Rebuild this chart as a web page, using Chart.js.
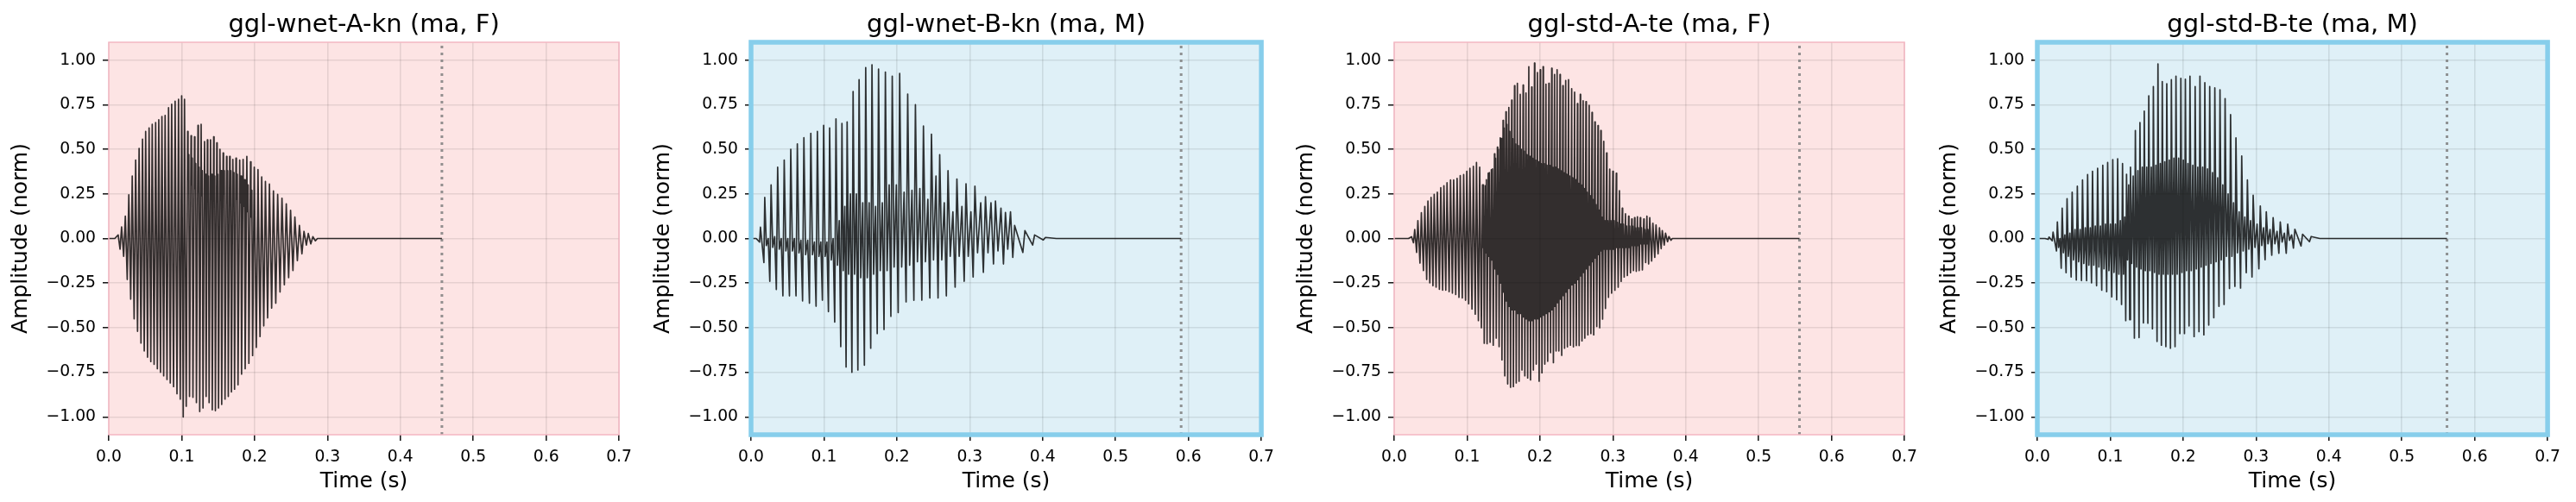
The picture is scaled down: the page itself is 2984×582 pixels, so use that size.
<!DOCTYPE html>
<html>
<head>
<meta charset="utf-8">
<script src="https://cdn.jsdelivr.net/npm/chart.js@4.4.1/dist/chart.umd.min.js"></script>
<style>
  body { margin: 0; background: #fff; width: 2984px; height: 582px; position: relative; overflow: hidden; }
  .panel { position: absolute; top: 0; width: 740px; height: 582px; }
</style>
</head>
<body>
<div class="panel" style="left:0px"><canvas id="c1" width="740" height="582"></canvas></div>
<div class="panel" style="left:744px"><canvas id="c2" width="740" height="582"></canvas></div>
<div class="panel" style="left:1489px"><canvas id="c3" width="740" height="582"></canvas></div>
<div class="panel" style="left:2234px"><canvas id="c4" width="740" height="582"></canvas></div>
<script>
// ---- data ----
const titles = ['ggl-wnet-A-kn (ma, F)', 'ggl-wnet-B-kn (ma, M)', 'ggl-std-A-te (ma, F)', 'ggl-std-B-te (ma, M)'];
const xTicks = [0, 0.1, 0.2, 0.3, 0.4, 0.5, 0.6, 0.7];
const yTicks = [-1, -0.75, -0.5, -0.25, 0, 0.25, 0.5, 0.75, 1];
const endTimes = [0.457, 0.59, 0.556, 0.562];   // end of audio (dotted line)

// per glottal cycle: peak time, peak, trough, inner ripple high/low
const p1Time = [0.0129,0.0176,0.0227,0.0275,0.0322,0.0369,0.0416,0.0463,0.0506,0.0553,0.0596,0.0643,0.0686,0.0729,0.0773,0.0820,0.0863,0.0910,0.0957,0.1000,0.1039,0.1082,0.1129,0.1176,0.1224,0.1267,0.1314,0.1353,0.1396,0.1439,0.1482,0.1525,0.1569,0.1616,0.1659,0.1702,0.1745,0.1796,0.1843,0.1894,0.1945,0.1996,0.2047,0.2098,0.2149,0.2204,0.2259,0.2317,0.2376,0.2435,0.2494,0.2553,0.2615,0.2678,0.2737,0.2800];
const p1Hi = [0.02,0.065,0.125,0.245,0.35,0.44,0.505,0.557,0.60,0.62,0.64,0.65,0.666,0.684,0.69,0.733,0.752,0.77,0.78,0.80,0.78,0.60,0.576,0.57,0.634,0.64,0.544,0.553,0.553,0.57,0.536,0.50,0.48,0.46,0.46,0.443,0.45,0.44,0.443,0.46,0.43,0.40,0.386,0.345,0.32,0.305,0.267,0.247,0.226,0.194,0.158,0.12,0.073,0.04,0.028,0.01];
const p1Lo = [-0.06,-0.10,-0.23,-0.34,-0.45,-0.52,-0.586,-0.63,-0.665,-0.69,-0.705,-0.73,-0.75,-0.77,-0.79,-0.81,-0.83,-0.87,-0.90,-1.0,-0.94,-0.885,-0.89,-0.92,-0.97,-0.95,-0.885,-0.92,-0.96,-0.965,-0.95,-0.93,-0.90,-0.885,-0.86,-0.845,-0.82,-0.76,-0.73,-0.70,-0.656,-0.61,-0.55,-0.49,-0.445,-0.39,-0.363,-0.30,-0.26,-0.22,-0.18,-0.124,-0.086,-0.037,-0.03,-0.013];
const p1InHi = [null,null,null,null,null,null,null,null,null,null,null,null,null,null,null,null,null,null,null,null,null,
  0.47,0.45,0.42,0.40,0.38,0.36,0.35,0.36,0.35,0.36,0.38,0.38,0.38,0.38,0.37,0.36,0.35,0.33,0.30,0.27,
  null,null,null,null,null,null,null,null,null,null,null,null,null,null,null];
const p1InLo = [null,null,null,null,null,null,null,null,null,null,null,null,null,null,null,null,null,null,null,null,null,
  0.33,0.30,0.28,0.26,0.24,0.22,0.22,0.22,0.21,0.22,0.24,0.25,0.25,0.25,0.24,0.22,0.20,0.18,0.15,0.12,
  null,null,null,null,null,null,null,null,null,null,null,null,null,null,null];

const p2Time = [0.0129,0.0188,0.0275,0.0365,0.0455,0.0545,0.0635,0.0725,0.0820,0.0910,0.0996,0.1078,0.1165,0.1247,0.1318,0.1400,0.1482,0.1573,0.1659,0.1749,0.1843,0.1937,0.2039,0.2149,0.2255,0.2365,0.2475,0.2588,0.2702,0.2824,0.2949,0.3071,0.3216,0.3353,0.3490,0.3616,0.3757,0.3890,0.4039];
const p2Hi = [0.063,0.23,0.30,0.40,0.44,0.50,0.53,0.565,0.59,0.60,0.634,0.62,0.67,0.645,0.654,0.824,0.89,0.958,0.974,0.95,0.933,0.91,0.925,0.81,0.75,0.63,0.585,0.47,0.38,0.333,0.307,0.293,0.234,0.21,0.146,0.073,0.044,0.02,0.006];
const p2Lo = [-0.02,-0.135,-0.24,-0.286,-0.322,-0.322,-0.322,-0.35,-0.363,-0.38,-0.346,-0.41,-0.468,-0.606,-0.72,-0.75,-0.737,-0.71,-0.615,-0.533,-0.51,-0.436,-0.415,-0.355,-0.346,-0.346,-0.333,-0.333,-0.322,-0.273,-0.24,-0.216,-0.19,-0.143,-0.143,-0.106,-0.078,-0.037,-0.008];
const p2InHi = [null,0.0,0.01,0.0,0.0,0.0,-0.01,-0.01,-0.02,-0.02,-0.02,0.0,
  0.1,0.18,0.25,0.25,0.2,0.2,0.18,0.2,0.3,0.3,0.26,0.27,
  0.28,0.22,0.35,0.2,0.15,0.18,0.15,0.2,0.2,0.17,0.15,null,null,null,null];
const p2InLo = [null,-0.04,-0.05,-0.06,-0.07,-0.07,-0.08,-0.09,-0.09,-0.1,-0.1,-0.12,
  -0.15,-0.18,-0.2,-0.2,-0.22,-0.22,-0.2,-0.18,-0.18,-0.16,-0.16,-0.15,
  -0.13,-0.13,-0.12,-0.12,-0.1,-0.1,-0.1,-0.08,-0.08,-0.07,-0.06,null,null,null,null];

const p3Time = [0.0239,0.0282,0.0325,0.0373,0.0420,0.0463,0.0506,0.0549,0.0592,0.0639,0.0682,0.0725,0.0773,0.0816,0.0863,0.0906,0.0953,0.0996,0.1039,0.1086,0.1129,0.1173,0.1212,0.1251,0.1290,0.1333,0.1376,0.1416,0.1455,0.1494,0.1533,0.1573,0.1612,0.1651,0.1690,0.1729,0.1769,0.1808,0.1847,0.1886,0.1925,0.1965,0.2004,0.2043,0.2082,0.2122,0.2161,0.2200,
  0.2235,0.2275,0.2314,0.2353,0.2392,0.2435,0.2475,0.2514,0.2553,0.2592,0.2631,0.2675,0.2714,0.2753,0.2796,0.2835,0.2875,0.2914,0.2957,0.3000,0.3047,0.3090,0.3129,0.3173,0.3216,0.3259,0.3298,0.3337,0.3376,0.3424,0.3467,0.3506,0.3549,0.3592,0.3639,0.3678,0.3722,0.3769];
const p3Hi = [0.01,0.05,0.10,0.145,0.18,0.21,0.23,0.247,0.26,0.285,0.296,0.312,0.328,0.328,0.337,0.353,0.358,0.377,0.393,0.405,0.426,0.40,0.30,0.296,0.366,0.385,0.475,0.512,0.564,0.662,0.71,0.735,0.776,0.857,0.87,0.808,0.86,0.816,0.963,0.849,0.984,0.93,0.946,0.963,0.865,0.87,0.954,0.92,
  0.946,0.92,0.857,0.886,0.89,0.84,0.82,0.756,0.808,0.772,0.767,0.746,0.707,0.654,0.633,0.605,0.545,0.48,0.389,0.377,0.366,0.268,0.17,0.138,0.125,0.109,0.117,0.122,0.117,0.109,0.125,0.117,0.085,0.076,0.06,0.044,0.03,0.011];
const p3Lo = [-0.024,-0.078,-0.138,-0.18,-0.23,-0.249,-0.265,-0.273,-0.285,-0.29,-0.29,-0.298,-0.306,-0.314,-0.33,-0.333,-0.346,-0.366,-0.395,-0.424,-0.46,-0.5,-0.587,-0.59,-0.582,-0.598,-0.558,-0.606,-0.68,-0.77,-0.815,-0.834,-0.83,-0.81,-0.80,-0.737,-0.77,-0.782,-0.793,-0.737,-0.704,-0.80,-0.753,-0.704,-0.688,-0.64,-0.696,-0.63,
  -0.63,-0.655,-0.615,-0.607,-0.598,-0.607,-0.6,-0.6,-0.574,-0.558,-0.54,-0.533,-0.54,-0.493,-0.5,-0.452,-0.392,-0.33,-0.306,-0.29,-0.273,-0.24,-0.216,-0.208,-0.192,-0.18,-0.184,-0.18,-0.176,-0.135,-0.143,-0.127,-0.106,-0.086,-0.057,-0.037,-0.018,-0.01];
const p3InHi = [null,null,null,null,null,null,null,null,null,null,null,null,null,null,null,null,null,null,null,null,null,null,
  0.30,0.33,0.37,0.39,0.45,0.50,0.56,0.62,0.64,0.60,0.56,0.53,0.52,0.50,0.49,0.47,0.46,0.45,0.44,0.43,
  0.42,0.42,0.41,0.41,0.40,0.40,0.39,0.38,0.37,0.36,0.35,0.34,0.33,0.31,0.30,0.28,0.26,0.24,0.22,0.19,
  0.16,0.12,0.10,0.10,0.10,0.10,0.09,0.08,0.08,0.07,0.07,0.07,0.06,0.06,0.06,0.05,0.05,
  null,null,null,null,null,null,null];
const p3InLo = [null,null,null,null,null,null,null,null,null,null,null,null,null,null,null,null,null,null,null,null,null,null,
  -0.05,-0.08,-0.10,-0.12,-0.17,-0.20,-0.25,-0.30,-0.35,-0.38,-0.40,-0.40,-0.42,-0.42,-0.44,-0.45,-0.46,-0.46,-0.45,-0.45,
  -0.44,-0.43,-0.42,-0.41,-0.40,-0.38,-0.36,-0.34,-0.32,-0.30,-0.28,-0.26,-0.25,-0.23,-0.21,-0.19,-0.17,-0.15,-0.13,-0.11,
  -0.09,-0.07,-0.06,-0.06,-0.06,-0.06,-0.05,-0.05,-0.05,-0.05,-0.05,-0.04,-0.04,-0.04,-0.03,-0.03,-0.03,
  null,null,null,null,null,null,null];

const p4Time = [0.0161,0.0216,0.0275,0.0341,0.0408,0.0478,0.0549,0.0620,0.0690,0.0757,0.0827,0.0898,0.0965,0.1035,0.1102,0.1169,0.1224,0.1278,0.1345,0.1408,0.1467,0.1529,0.1592,0.1655,0.1714,0.1776,0.1839,0.1902,0.1969,0.2031,0.2094,0.2165,0.2231,0.2298,0.2365,0.2435,0.2506,0.2576,0.2651,0.2725,0.2804,0.2882,0.2961,0.3059,0.3141,0.3235,0.3333,0.3435,0.3533,0.3639,0.3757];
const p4Hi = [0.008,0.036,0.093,0.17,0.223,0.26,0.293,0.328,0.358,0.377,0.393,0.41,0.426,0.442,0.447,0.42,0.36,0.40,0.605,0.65,0.714,0.80,0.852,0.979,0.88,0.868,0.89,0.91,0.898,0.893,0.91,0.852,0.91,0.873,0.852,0.844,0.833,0.784,0.694,0.564,0.463,0.328,0.242,0.182,0.15,0.117,0.093,0.08,0.052,0.024,0.011];
const p4Lo = [-0.005,-0.013,-0.07,-0.167,-0.192,-0.216,-0.233,-0.236,-0.237,-0.249,-0.265,-0.29,-0.298,-0.327,-0.343,-0.37,-0.46,-0.455,-0.558,-0.555,-0.473,-0.475,-0.506,-0.577,-0.598,-0.606,-0.615,-0.606,-0.533,-0.533,-0.49,-0.55,-0.522,-0.54,-0.485,-0.444,-0.38,-0.37,-0.28,-0.268,-0.278,-0.192,-0.216,-0.17,-0.119,-0.094,-0.083,-0.083,-0.054,-0.042,-0.018];
const p4InHi = [null,null,0.0,0.02,0.03,0.05,0.05,0.06,0.06,0.07,0.07,0.08,0.08,0.08,0.1,0.12,
  0.30,0.35,0.38,0.40,0.40,0.40,0.41,0.42,0.43,0.44,0.45,0.45,0.44,0.42,0.41,0.40,0.40,0.39,0.37,0.34,0.30,0.25,0.2,
  0.15,0.12,0.1,0.08,0.06,0.05,0.04,0.03,0.02,null,null,null];
const p4InLo = [null,null,-0.05,-0.08,-0.1,-0.12,-0.13,-0.14,-0.15,-0.15,-0.16,-0.17,-0.18,-0.19,-0.2,-0.2,
  -0.12,-0.14,-0.16,-0.17,-0.18,-0.18,-0.19,-0.2,-0.2,-0.2,-0.2,-0.2,-0.19,-0.18,-0.18,-0.17,-0.16,-0.15,-0.14,-0.13,-0.12,-0.1,-0.1,
  -0.08,-0.07,-0.06,-0.05,-0.04,-0.03,-0.03,-0.02,-0.01,null,null,null];

// ---- styling ----
const PINK = { bg: '#fde4e4', spine: '#f4b6c2', spineW: 1.5 };
const BLUE = { bg: '#dff0f7', spine: '#87ceeb', spineW: 5.5 };
const tickFont = { family: 'DejaVu Sans', size: 18.75 };
const labelFont = { family: 'DejaVu Sans', size: 25 };
const gridColor = 'rgba(0,0,0,0.09)';

// loShift: where the trough sits relative to the peak, as a fraction of the cycle
const panels = [
  { id: 'c1', t: p1Time, hi: p1Hi, lo: p1Lo, inHi: p1InHi, inLo: p1InLo, loShift: 0.55, look: PINK },
  { id: 'c2', t: p2Time, hi: p2Hi, lo: p2Lo, inHi: p2InHi, inLo: p2InLo, loShift: -0.2, look: BLUE },
  { id: 'c3', t: p3Time, hi: p3Hi, lo: p3Lo, inHi: p3InHi, inLo: p3InLo, loShift: 0.6, look: PINK },
  { id: 'c4', t: p4Time, hi: p4Hi, lo: p4Lo, inHi: p4InHi, inLo: p4InLo, loShift: -0.2, look: BLUE }
];

// turn the cycle table into a polyline
function wavePoints(d, end) {
  const n = d.t.length;
  const pts = [{ x: 0, y: 0 }, { x: d.t[0] - (d.t[1] - d.t[0]), y: 0 }];
  for (let i = 0; i < n; i++) {
    const p = i < n - 1 ? d.t[i + 1] - d.t[i] : d.t[i] - d.t[i - 1];
    const pPrev = i > 0 ? d.t[i] - d.t[i - 1] : p;
    const hasIn = d.inHi[i] !== null;
    if (d.loShift < 0) {
      pts.push({ x: d.t[i] + d.loShift * pPrev, y: d.lo[i] });
      pts.push({ x: d.t[i], y: d.hi[i] });
      if (hasIn) {
        pts.push({ x: d.t[i] + 0.25 * p, y: d.inLo[i] });
        pts.push({ x: d.t[i] + 0.55 * p, y: d.inHi[i] });
      }
    } else {
      pts.push({ x: d.t[i], y: d.hi[i] });
      if (hasIn) {
        pts.push({ x: d.t[i] + 0.12 * p, y: d.inLo[i] });
        pts.push({ x: d.t[i] + 0.35 * p, y: d.inHi[i] });
      }
      pts.push({ x: d.t[i] + d.loShift * p, y: d.lo[i] });
    }
  }
  pts.push({ x: d.t[n - 1] + (d.t[n - 1] - d.t[n - 2]), y: 0 }, { x: end, y: 0 });
  return pts;
}

// background, spines and a title centred over the axes
const panelPlugin = {
  id: 'panel',
  beforeDraw(chart, args, opts) {
    const { ctx, chartArea: a } = chart;
    ctx.save();
    ctx.fillStyle = opts.bg;
    ctx.fillRect(a.left, a.top, a.width, a.height);
    ctx.restore();
  },
  afterDraw(chart, args, opts) {
    const { ctx, chartArea: a } = chart;
    ctx.save();
    ctx.strokeStyle = opts.spine;
    ctx.lineWidth = opts.spineW;
    ctx.strokeRect(a.left, a.top, a.width, a.height);
    ctx.fillStyle = '#000';
    ctx.font = '29px "DejaVu Sans"';
    ctx.textAlign = 'center';
    ctx.textBaseline = 'alphabetic';
    ctx.fillText(opts.title, (a.left + a.right) / 2, 37);
    ctx.restore();
  }
};

panels.forEach((d, k) => {
  const end = endTimes[k];
  new Chart(document.getElementById(d.id), {
    type: 'line',
    data: {
      datasets: [
        { data: wavePoints(d, end), borderColor: 'rgba(0,0,0,0.8)', borderWidth: 1.7,
          borderJoinStyle: 'round', pointRadius: 0, tension: 0 },
        { data: [{ x: end, y: -1.1 }, { x: end, y: 1.1 }], borderColor: 'rgba(128,128,128,0.85)',
          borderWidth: 3, borderDash: [3, 5], pointRadius: 0 }
      ]
    },
    options: {
      animation: false,
      responsive: false,
      devicePixelRatio: 1,
      events: [],
      layout: { padding: { top: 49, right: 20, left: 0, bottom: 0 } },
      plugins: {
        legend: { display: false },
        tooltip: { enabled: false },
        panel: { bg: d.look.bg, spine: d.look.spine, spineW: d.look.spineW, title: titles[k] }
      },
      scales: {
        x: {
          type: 'linear', min: 0, max: 0.7,
          afterBuildTicks: s => { s.ticks = xTicks.map(v => ({ value: v })); },
          afterFit: s => { s.height = 78; },
          ticks: { font: tickFont, color: '#000', padding: 8, maxRotation: 0, autoSkip: false,
                   callback: v => v.toFixed(1) },
          grid: { color: gridColor, lineWidth: 1.6, tickColor: '#000', tickLength: 7, tickWidth: 1.4 },
          border: { display: false },
          title: { display: true, text: 'Time (s)', font: labelFont, color: '#000', padding: { top: 0, bottom: 9 } }
        },
        y: {
          type: 'linear', min: -1.1, max: 1.1,
          afterBuildTicks: s => { s.ticks = yTicks.map(v => ({ value: v })); },
          afterFit: s => { s.width = 126; },
          ticks: { font: tickFont, color: '#000', padding: 8, autoSkip: false,
                   callback: v => (v < 0 ? '\u2212' : '') + Math.abs(v).toFixed(2) },
          grid: { color: gridColor, lineWidth: 1.6, tickColor: '#000', tickLength: 7, tickWidth: 1.4 },
          border: { display: false },
          title: { display: true, text: 'Amplitude (norm)', font: labelFont, color: '#000', padding: { top: 9, bottom: 0 } }
        }
      }
    },
    plugins: [panelPlugin]
  });
});
</script>
</body>
</html>
